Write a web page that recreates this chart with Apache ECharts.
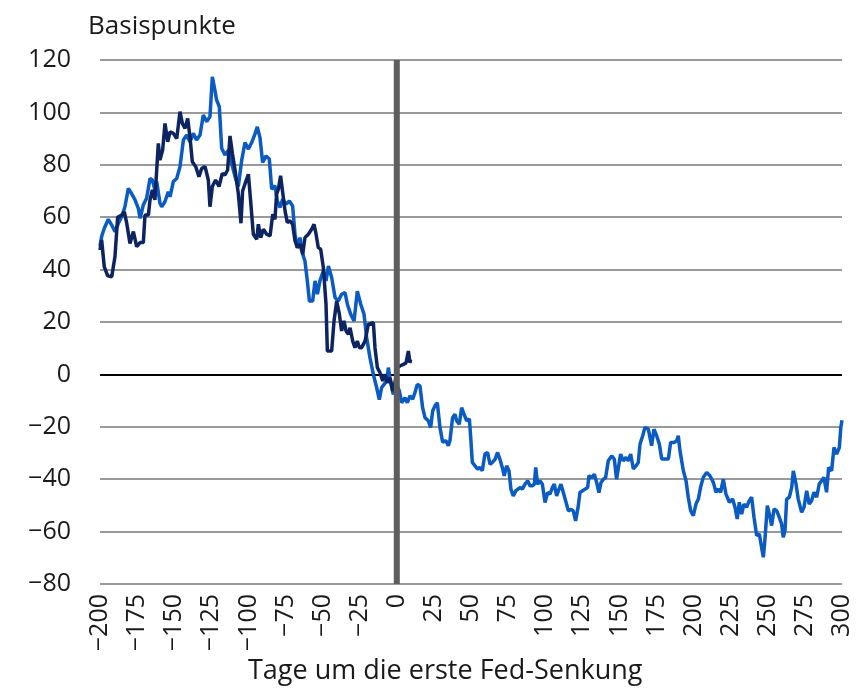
<!DOCTYPE html>
<html>
<head>
<meta charset="utf-8">
<script src="https://cdn.jsdelivr.net/npm/echarts@6/dist/echarts.min.js"></script>
<style>
html,body{margin:0;padding:0;background:#fff;}
#c{width:858px;height:689px;}
</style>
</head>
<body>
<div id="c"></div>
<script>
// Days around first Fed cut (x) and basis points (y)
const lightDays = [-200,-198.9,-197.1,-194.4,-192.1,-189.9,-187.6,-185.4,-183.2,-180.9,-178.7,-176.4,-174.2,-173,-170.8,-168.6,-166.3,-164.7,-163,-161.8,-159.6,-158.4,-156.2,-154,-152.8,-150.6,-148.3,-146.1,-143.8,-141.6,-139.4,-137.1,-134.9,-132.6,-130.4,-128.1,-125.9,-124.3,-123,-121.4,-119.6,-118,-115.8,-113.5,-111.3,-109,-106.8,-104.5,-102.3,-100,-97.8,-95.6,-94,-92.2,-90.4,-88.1,-85.9,-84.3,-82.1,-80.5,-78.7,-76.9,-74.7,-72.4,-70.2,-68.6,-67,-65.2,-63.4,-61.9,-60.3,-58.9,-56.7,-55.1,-53.5,-51.8,-49.5,-47.7,-46.1,-43.9,-41.6,-39.4,-37.2,-34.9,-33.3,-31.1,-28.8,-26.6,-24.3,-22.1,-20.3,-18.1,-15.8,-13.6,-11.8,-10.2,-8.6,-6.8,-5.7,-4.6,-2.4,-0.1,1.7,3.3,5.5,7.1,8.9,10.7,12.2,13.8,15.6,17.4,19,21.2,22.8,24.2,25.7,27.3,29.1,30.9,33.1,34.7,35.8,37.6,39.2,40.3,42.1,43.7,45.3,47.1,48.9,49.8,50.9,52.7,54.5,56,57.6,59.4,61.2,62.8,64.4,66.2,67.9,69.5,71.1,72.4,74,75.6,76.9,78.5,80.1,81.4,83,84.6,86.4,88.2,89.7,91.3,92.7,93.6,94.9,96.5,98.1,99.9,101.6,103.2,104.8,106.1,107.7,109.3,110.6,112.2,113.8,115.6,117.4,118.9,120.5,122.3,123.4,125,126.8,128.6,129.5,131.3,133.1,134.7,136.2,137.6,139.2,140.7,142.5,144.8,146.6,148.1,149.3,150.8,152.6,154.4,156,157.6,159.4,161.2,162.7,163.9,165.7,167.2,169.5,171.7,173.3,175.1,176.9,178.5,180.7,183,184.5,186.8,188.6,189.7,190.8,193.1,194.9,196.4,198,199.8,201.6,203.2,204.7,206.5,208.8,211,213.3,215.1,216.6,218.2,220,221.8,224.1,226.3,227.9,229.4,230.8,232.4,233.9,235.7,237.5,239.1,240.7,242.5,244.3,245.8,247,248.1,249.7,251.5,252.6,254.2,256,257.7,259.3,260.4,261.6,262.7,264.5,266.1,267.2,269,270.5,272.8,274.4,276.2,277.9,279.5,281.1,282.9,284.7,286.3,287.8,289.6,291,293,294.6,296.4,298.2,299.2,300];
const lightBp = [49,52.6,55.8,59.2,57,54.5,57.7,60.2,64,71,69,66.6,63.4,59.6,64.7,67.2,74.8,74.2,70.4,73.6,65.3,64,66,69.7,67.8,73.6,74.8,79.3,89.5,91.4,88.8,92,89.5,91.4,99,96.5,98.4,113.6,109.8,104.7,102.2,86.3,83.7,85.6,80.6,75.5,71.7,81.8,88.5,86,88.5,91.7,94.5,90.4,80.9,83.4,82.2,70.7,72,66.2,63.7,66.9,65,66.2,64.3,53.5,48.4,52.2,45.9,43.3,35.7,28,28,35.7,30.6,35.7,39.5,35.7,41.4,37,29.3,28,30.6,31.2,26.8,23,20.4,31.8,26.8,23,14,6.4,0,-5,-9.6,-5,-3.8,-2.5,2.6,-1.3,-7.6,-3.8,-6.3,-10.8,-8.9,-10.8,-8.2,-9.5,-7,-3.8,-4.4,-12.7,-16.5,-17.7,-20.3,-13.9,-12,-10.8,-20.3,-25.9,-25.3,-27.2,-25.3,-16.5,-15.2,-17.7,-19,-12.7,-15.2,-17.7,-17,-24,-33.6,-34.9,-36.2,-35.5,-36.8,-30.4,-29.8,-34.3,-33.6,-32.4,-29.8,-32.4,-35.5,-38.7,-34.9,-36.8,-43.8,-46.4,-44.5,-45.1,-43.2,-43.8,-41.9,-40.6,-42.5,-42.5,-41.9,-35.5,-41.9,-40.6,-41.9,-48.9,-45.1,-45.7,-43.2,-41.9,-46.4,-43.8,-41.9,-45.1,-48.3,-52.1,-51.5,-52.1,-55.9,-50.2,-45.1,-44.5,-43.8,-43.2,-38.7,-39.4,-38.1,-41.3,-45.1,-41.3,-40,-39.4,-33,-31.1,-32.4,-40,-40.6,-30.4,-33,-31.7,-33,-30.4,-36.1,-34.9,-33.6,-26.6,-23.4,-20.3,-20.9,-27.2,-20.9,-23.4,-26.6,-32.3,-32.3,-32.3,-26,-26,-25.3,-23.4,-29.1,-36.8,-40.6,-46.9,-52,-53.9,-49.5,-47.6,-43.1,-39.3,-37.4,-38.7,-41.2,-45,-43.7,-45,-40,-45.7,-48.8,-47.6,-50.7,-55.2,-48.8,-53.3,-49.5,-50.7,-48.2,-46.9,-54.5,-61.5,-60.9,-66,-69.8,-62.8,-50.1,-54.5,-57.7,-51.4,-52,-54.5,-57.1,-62.2,-59.6,-47.6,-46.9,-43.1,-36.8,-41.8,-47.6,-52.6,-50.7,-44.4,-49.5,-48.2,-45,-46.9,-41.8,-40.6,-39.3,-45,-35.5,-36.8,-27.9,-30.4,-27.9,-20.3,-17.5];

const darkDays = [-200,-198.9,-197.1,-194.8,-192.1,-189.9,-188.1,-185.4,-183.6,-182,-179.8,-177.5,-175.3,-173,-170.8,-169.7,-167.4,-166.3,-164.7,-163,-161.8,-160.7,-159.6,-157.8,-156.2,-154.4,-152.8,-150.6,-148.3,-146.1,-144.5,-142.7,-140.9,-139.4,-137.8,-135.5,-133.3,-131.5,-129.2,-127,-125.9,-124.3,-122.1,-119.8,-117.6,-115.8,-114,-112.4,-110.8,-109,-106.8,-105,-103.9,-101.6,-100,-98.5,-96.7,-94.4,-93.3,-91.7,-89.9,-87.7,-85.4,-83.6,-82.1,-81,-79.8,-78.3,-76.9,-75.3,-73.8,-72,-70.2,-68.6,-67,-65.2,-63.4,-61.9,-59.6,-57.4,-55.8,-54.4,-52.9,-51.3,-49.5,-47.7,-46.8,-43.9,-42.3,-40.5,-38.7,-37.2,-35.6,-34.2,-32.6,-31.5,-29.7,-28.2,-26.6,-25.2,-23.7,-21.4,-19.2,-15.8,-14.7,-13.1,-11.3,-9.5,-7.9,-6.4,-4.6,-2.8,-1.2,0.5,2.1,4.4,6.2,7.8,8.9,9.3];
const darkBp = [47.5,51.3,41,37.6,37.3,45,60,60.8,62,57.7,50,54.5,48.8,50.3,50.3,60.8,60.8,66.6,70.4,66.6,78,88.2,81.8,85.6,95.8,88.8,92.6,92,90,100.3,95.8,93.9,97.7,90.7,81.2,79.3,75.5,78.6,79.3,74.2,64,71.7,74.2,71.7,76.7,76.1,78,91,84.4,78,69,57.7,70,73.9,76.4,66.2,53.5,51.6,57.3,52.2,55.4,53.5,52.9,61.1,59.2,68.8,70.7,75.8,69.4,62.4,58,58.6,57.3,51,48.4,49.7,45.9,52.2,53.5,55.4,57.3,53.5,48.4,47.8,40.8,26.8,8.9,8.9,20.4,28,23,16.6,20.4,16.6,15.3,17.8,12.7,10.2,12.7,10.2,10.2,12.7,19.1,19.8,10.2,2.6,0.6,-2.5,0,-3.2,-1.3,-6.4,-3,2.6,3.2,3.8,4.4,8.9,4.4,5.7];

const yTicks = {min: -80, max: 120, step: 20};
const xTicks = {min: -200, max: 300, step: 25};

const zip = (xs, ys) => xs.map((x, i) => [x, ys[i]]);
const minus = v => String(v).replace('-', '\u2212');

const FONT = '"Open Sans", "Noto Sans", sans-serif';
const TXT = '#1a1a1a';
const chart = echarts.init(document.getElementById('c'), null, {renderer: 'canvas'});
chart.setOption({
  animation: false,
  backgroundColor: '#ffffff',
  title: [
    {text: 'Basispunkte', left: 83, top: 9, textStyle: {fontFamily: FONT, fontSize: 26, fontWeight: 'normal', color: TXT}},
    {text: 'Tage um die erste Fed-Senkung', left: 243, top: 653, textStyle: {fontFamily: FONT, fontSize: 27, fontWeight: 'normal', color: TXT}}
  ],
  grid: {left: 100, right: 16, top: 60, bottom: 105, containLabel: false},
  xAxis: {
    type: 'value', min: xTicks.min, max: xTicks.max, interval: xTicks.step,
    axisLine: {show: false}, axisTick: {show: false}, splitLine: {show: false},
    axisLabel: {rotate: 90, margin: 10, fontFamily: FONT, fontSize: 25, color: TXT, formatter: minus}
  },
  yAxis: {
    type: 'value', min: yTicks.min, max: yTicks.max, interval: yTicks.step,
    axisLine: {show: false}, axisTick: {show: false},
    splitLine: {show: true, lineStyle: {color: '#9a9a9a', width: 2}},
    axisLabel: {margin: 29, fontFamily: FONT, fontSize: 25, color: TXT, formatter: minus}
  },
  series: [
    {
      type: 'line', name: 'hell', data: zip(lightDays, lightBp), showSymbol: false, symbol: 'none',
      lineStyle: {color: '#0a5bc4', width: 3.5}, z: 3,
      markLine: {silent: true, symbol: 'none', label: {show: false},
        lineStyle: {color: '#000000', width: 2, type: 'solid'}, data: [{yAxis: 0}], z: 1}
    },
    {
      type: 'line', name: 'dunkel', data: zip(darkDays, darkBp), showSymbol: false, symbol: 'none',
      lineStyle: {color: '#0d2461', width: 3.5}, z: 4
    },
    {
      type: 'line', name: 'zero', data: [[0, yTicks.min], [0, yTicks.max]], showSymbol: false, symbol: 'none',
      lineStyle: {color: '#5e5e5e', width: 6}, z: 6, silent: true
    }
  ]
});
</script>
</body>
</html>
